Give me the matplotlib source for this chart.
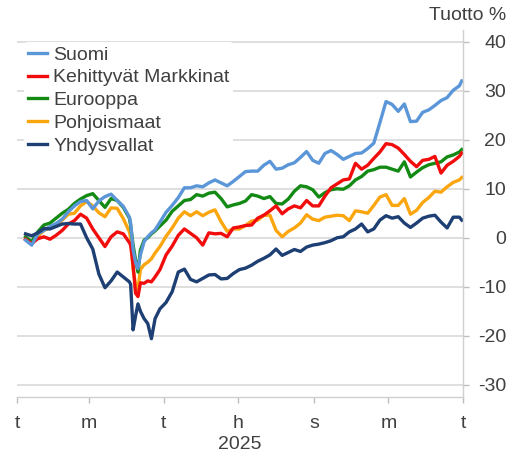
import numpy as np
import pandas as pd
import matplotlib
matplotlib.use("Agg")
import matplotlib.pyplot as plt

plt.rcParams['font.family'] = ['Liberation Sans', 'DejaVu Sans']
plt.rcParams['axes.unicode_minus'] = False

# päivä vuoden alusta (0 = 1.1.2025)
days = [7, 12, 17, 22, 27, 32, 37, 42, 47, 52, 57, 62, 67, 72, 77, 82, 87, 92,
        93, 95, 97, 99, 101, 104, 107, 110, 113,
        117, 122, 127, 132, 137, 142, 147, 152, 157, 162,
        167, 172, 177, 182, 187, 192, 197, 202, 207, 212,
        217, 222, 227, 232, 237, 242, 247, 252, 257, 262,
        267, 272, 277, 282, 287, 292, 297, 302, 307, 312,
        317, 322, 327, 332, 337, 342, 347, 352, 357, 362,
        364]

suomi = [-0.5, -1.5, 0.8, 1.5, 2.3, 2.9, 3.8, 5.3, 6.5, 7.4, 7.6, 5.9, 7.5, 8.4, 8.9, 7.6, 6.4, 4.2,
         3.0, -2.4, -5.0, -6.3, -3.5, -0.8, 0.2, 1.0, 1.6,
         3.2, 5.2, 6.6, 8.2, 10.2, 10.2, 10.6, 10.4, 11.2, 11.8,
         11.2, 10.6, 11.5, 12.5, 13.5, 13.6, 13.6, 14.8, 15.6, 14.0,
         14.2, 14.9, 15.3, 16.4, 17.6, 15.8, 15.2, 17.2, 17.8, 17.0,
         16.0, 16.6, 17.2, 17.3, 18.2, 19.3, 23.5, 27.8, 27.2, 25.8,
         27.3, 23.7, 23.8, 25.6, 26.1, 27.0, 28.0, 28.6, 30.1, 31.0,
         32.0]

kehittyvat = [-0.3, -1.2, -0.2, 0.2, -0.3, 0.5, 1.5, 2.8, 3.5, 4.8, 4.0, 1.8, 0.0, -1.8, 0.2, 1.2, 0.8, -1.0,
              -1.5, -5.5, -11.3, -12.0, -9.2, -9.3, -8.8, -9.0, -8.0,
              -6.5, -3.5, -1.7, 0.5, 1.8, 0.9, 0.0, -1.5, 1.0, 0.8,
              0.9, 0.2, 2.0, 2.2, 2.5, 2.6, 4.0, 4.6, 5.5, 6.5,
              4.9, 5.9, 6.5, 6.1, 7.6, 6.5, 6.5, 8.5, 10.2, 11.0,
              11.8, 12.0, 15.2, 14.0, 14.8, 16.2, 17.5, 19.2, 19.0, 18.3,
              17.0, 15.6, 14.5, 15.8, 16.0, 16.6, 13.2, 14.8, 15.6, 16.6,
              17.3]

eurooppa = [0.2, -0.8, 1.2, 2.6, 3.0, 4.0, 5.0, 5.8, 7.0, 7.9, 8.6, 9.0, 7.6, 6.2, 8.0, 7.6, 6.2, 4.0,
            2.5, -1.5, -4.5, -7.0, -2.5, -0.5, 0.0, 0.8, 1.4,
            2.4, 3.6, 5.4, 6.5, 7.6, 7.8, 8.8, 8.5, 9.1, 9.3,
            8.0, 6.3, 6.7, 7.0, 7.5, 8.8, 8.5, 8.0, 8.4, 7.0,
            6.9, 7.9, 9.5, 10.6, 10.4, 9.8, 8.3, 9.2, 9.8, 10.0,
            9.9, 10.6, 11.8, 12.5, 13.6, 13.9, 14.4, 14.4, 14.0, 13.6,
            15.5, 12.4, 13.4, 14.3, 14.9, 15.2, 15.5, 16.5, 16.9, 17.5,
            18.0]

pohjoismaat = [-0.3, -1.0, 0.3, 1.5, 2.0, 2.6, 3.6, 4.8, 5.0, 6.5, 7.4, 6.5, 5.1, 4.3, 6.1, 6.0, 3.9, 1.2,
               0.0, -6.5, -9.5, -10.5, -6.5, -5.5, -5.0, -4.3, -3.1,
               -1.8, 0.3, 2.0, 4.0, 5.3, 4.5, 5.3, 4.5, 5.2, 5.7,
               3.3, 1.3, 1.8, 1.8, 2.5, 3.4, 3.6, 4.6, 4.6, 1.5,
               0.2, 1.3, 2.0, 3.0, 4.7, 3.8, 3.5, 4.2, 4.4, 4.6,
               4.5, 3.5, 5.5, 5.3, 5.0, 6.6, 8.3, 8.8, 6.6, 6.6,
               8.0, 4.8, 5.6, 7.2, 8.2, 9.5, 9.3, 10.4, 11.3, 11.8,
               12.3]

yhdysvallat = [0.8, 0.4, 1.0, 1.9, 1.8, 2.3, 2.8, 2.9, 2.8, 2.8, 0.0, -2.3, -7.4, -10.2, -8.8, -7.0, -8.0, -9.0,
               -9.5, -18.8, -16.0, -13.5, -15.0, -16.5, -17.5, -20.6, -16.5,
               -14.5, -13.2, -11.0, -7.0, -6.4, -8.5, -9.0, -8.3, -7.6, -7.5,
               -8.4, -8.3, -7.3, -6.5, -6.2, -5.6, -4.8, -4.2, -3.5, -2.3,
               -3.6, -3.0, -2.4, -2.8, -1.9, -1.5, -1.3, -1.0, -0.6, 0.0,
               0.2, 1.2, 1.8, 2.8, 1.2, 1.8, 3.6, 4.5, 4.0, 4.3,
               3.0, 2.1, 3.0, 4.0, 4.4, 4.6, 3.2, 2.0, 4.2, 4.2,
               3.6]

names = ['Suomi', 'Kehittyvät Markkinat', 'Eurooppa', 'Pohjoismaat', 'Yhdysvallat']
colors = ['#5b96d8', '#f20d0d', '#138a13', '#fca60f', '#1d3f73']
series = [suomi, kehittyvat, eurooppa, pohjoismaat, yhdysvallat]

tick_dates = ['2025-01-01', '2025-03-01', '2025-05-01', '2025-07-01',
              '2025-09-01', '2025-11-01', '2026-01-01']
tick_labels = ['t', 'm', 't', 'h', 's', 'm', 't']

txt = '#404040'
dates = pd.Timestamp('2025-01-01') + pd.to_timedelta(days, unit='D')

fig = plt.figure(figsize=(5.13, 4.54), dpi=100)
ax = fig.add_axes([17 / 513, 57 / 454, 446 / 513, 367 / 454])

lines = {}
# piirtojärjestys: Yhdysvallat ja Suomi päällimmäisinä
for i in [3, 2, 1, 0, 4]:
    lines[i], = ax.plot(dates, series[i], color=colors[i], lw=2.4, label=names[i])

ax.set_xlim(pd.Timestamp('2025-01-01'), pd.Timestamp('2026-01-01'))
ax.set_ylim(-32.5, 42.4)
ax.yaxis.tick_right()
ax.set_yticks(range(-30, 41, 10))
ax.grid(axis='y', color='#d9d9d9', lw=1.2)
ax.set_axisbelow(True)
for s in ['left', 'top']:
    ax.spines[s].set_visible(False)
for s in ['right', 'bottom']:
    ax.spines[s].set_color('#d0d0d0')
    ax.spines[s].set_linewidth(1.0)

ax.set_xticks(pd.to_datetime(tick_dates))
ax.set_xticklabels(tick_labels)
ax.tick_params(axis='x', length=4.3, width=1, color='#bfbfbf', pad=9,
               labelsize=14, labelcolor=txt)
ax.tick_params(axis='y', length=4.3, width=1, color='#bfbfbf', pad=26.6,
               labelsize=14, labelcolor=txt)
for lbl in ax.get_yticklabels():
    lbl.set_horizontalalignment('right')
ax.set_xlabel('2025', fontsize=14, color=txt, labelpad=2.5)

leg = ax.legend([lines[i] for i in range(5)], names,
                loc='upper left', bbox_to_anchor=(24 / 513, 1 - 42 / 454),
                bbox_transform=fig.transFigure, fontsize=14, frameon=True,
                facecolor='white', edgecolor='none', framealpha=1,
                handlelength=1.0, handletextpad=0.3, labelspacing=0.27,
                borderpad=0.2, borderaxespad=0)
for t in leg.get_texts():
    t.set_color(txt)

fig.text(506 / 513, 1 - 15 / 454, 'Tuotto %', ha='right', va='center',
         fontsize=14, color=txt)

fig.savefig('out.png', dpi=100)
